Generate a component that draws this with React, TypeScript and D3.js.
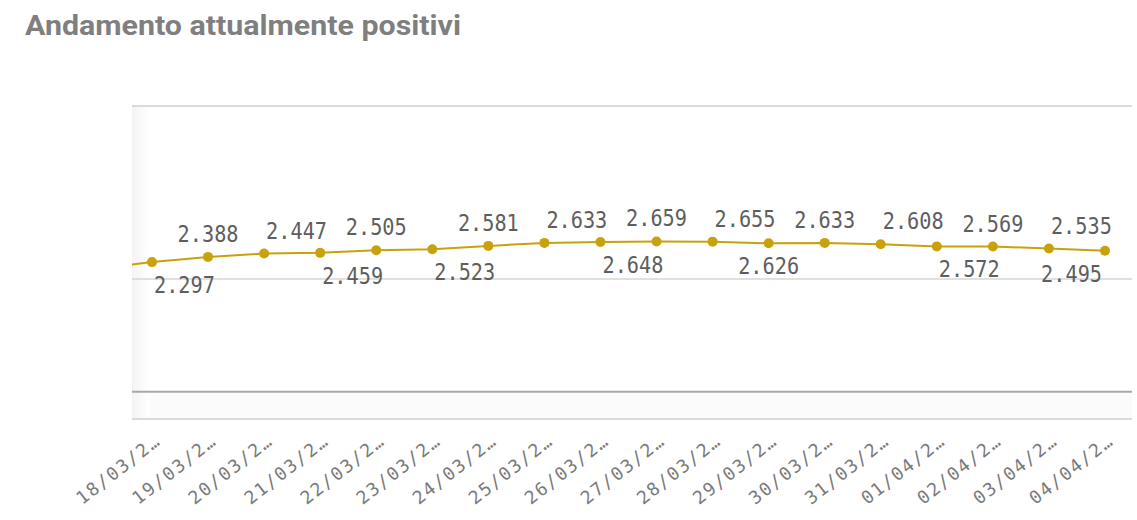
import React from 'react';
import * as d3 from 'd3';

// Data (first category is scrolled out of view on the left)
const categories = [
  "17/03/2020", "18/03/2020", "19/03/2020", "20/03/2020", "21/03/2020", "22/03/2020",
  "23/03/2020", "24/03/2020", "25/03/2020", "26/03/2020", "27/03/2020", "28/03/2020",
  "29/03/2020", "30/03/2020", "31/03/2020", "01/04/2020", "02/04/2020", "03/04/2020",
  "04/04/2020",
];
const values = [
  2175, 2297, 2388, 2447, 2459, 2505, 2523, 2581, 2633, 2648, 2659, 2655,
  2626, 2633, 2608, 2572, 2569, 2535, 2495,
];
const labelSide = [
  "", "below", "above", "above", "below", "above", "below", "above", "above", "below",
  "above", "above", "below", "above", "above", "below", "above", "above", "below",
];
const labelAnchor = [
  "", "start", "middle", "start", "start", "middle", "start", "middle", "start", "start",
  "middle", "start", "middle", "middle", "start", "start", "middle", "start", "end",
];
const gridValues = [2000];
const baseValue = 0;
const yDomain = [-450, 5030];
const title = "Andamento attualmente positivi";

const W = 1137;
const H = 520;
const plot = { left: 132, right: 1132, top: 106, bottom: 419 };
const lineColor = "#c8a20c";
const mono = "'DejaVu Sans Mono', monospace";

const itLocale = d3.formatLocale({ decimal: ",", thousands: ".", grouping: [3], currency: ["", "€"] });
const fmt = itLocale.format(",.0f");

export default function App() {
  const step = 56.06;
  const x = d3
    .scalePoint<string>()
    .domain(categories)
    .range([1105 - step * (categories.length - 1), 1105]);
  const y = d3.scaleLinear().domain(yDomain).range([plot.bottom, plot.top]);

  const pts = categories.map((c, i) => ({ c, v: values[i], i, px: x(c) as number, py: y(values[i]) }));
  const visible = pts.filter((p) => p.px >= plot.left);

  const line = d3
    .line<typeof pts[number]>()
    .x((d) => d.px)
    .y((d) => d.py);

  return (
    <svg width={W} height={H} style={{ position: 'absolute', left: 0, top: 0, background: '#fff' }}>
      <defs>
        <clipPath id="plotClip">
          <rect x={plot.left} y={plot.top} width={plot.right - plot.left} height={plot.bottom - plot.top} />
        </clipPath>
        <linearGradient id="edgeShade" x1="0" x2="1" y1="0" y2="0">
          <stop offset="0" stopColor="#f4f4f4" />
          <stop offset="1" stopColor="#ffffff" />
        </linearGradient>
      </defs>

      <text
        x={25}
        y={35}
        fontFamily="Roboto, 'Open Sans', sans-serif"
        fontWeight={700}
        fontSize={28}
        fill="#7f7f7f"
        textLength={436}
        lengthAdjust="spacingAndGlyphs"
      >
        {title}
      </text>

      {/* plot background details */}
      <rect x={plot.left} y={y(baseValue)} width={plot.right - plot.left} height={plot.bottom - y(baseValue)} fill="#fbfbfb" />
      <rect x={plot.left} y={plot.top} width={18} height={plot.bottom - plot.top} fill="url(#edgeShade)" />

      {/* grid */}
      <line x1={plot.left} x2={plot.right} y1={plot.top} y2={plot.top} stroke="#cfcfcf" strokeWidth={1.5} />
      {gridValues.map((g) => (
        <line key={g} x1={plot.left} x2={plot.right} y1={y(g)} y2={y(g)} stroke="#d6d6d6" strokeWidth={1.5} />
      ))}
      <line x1={plot.left} x2={plot.right} y1={y(baseValue) - 1.5} y2={y(baseValue) - 1.5} stroke="#a8a8a8" strokeWidth={2} />
      <line x1={plot.left} x2={plot.right} y1={plot.bottom} y2={plot.bottom} stroke="#dadada" strokeWidth={2} />

      {/* line + points */}
      <g clipPath="url(#plotClip)">
        <path d={line(pts) || ''} fill="none" stroke={lineColor} strokeWidth={2} />
        {visible.map((p) => (
          <circle key={p.c} cx={p.px} cy={p.py} r={5} fill={lineColor} />
        ))}
      </g>

      {/* data labels */}
      {visible.map((p) => {
        const anchor = labelAnchor[p.i];
        const dx = anchor === "start" ? 2 : anchor === "end" ? -3 : 0;
        const ly = labelSide[p.i] === "above" ? p.py - 15 : p.py + 31;
        return (
          <text
            key={"l" + p.c}
            transform={`translate(${p.px + dx},${ly}) scale(0.88,1)`}
            textAnchor={anchor}
            fontFamily={mono}
            fontSize={23}
            fill="#5e5e5e"
          >
            {fmt(p.v)}
          </text>
        );
      })}

      {/* x axis labels */}
      {visible.map((p) => (
        <text
          key={"x" + p.c}
          transform={`translate(${p.px + 10},${443}) rotate(-38)`}
          textAnchor="end"
          fontFamily={mono}
          fontSize={18}
          letterSpacing={1.8}
          fill="#7a7a7a"
        >
          {p.c.slice(0, 7) + "…"}
        </text>
      ))}
    </svg>
  );
}
